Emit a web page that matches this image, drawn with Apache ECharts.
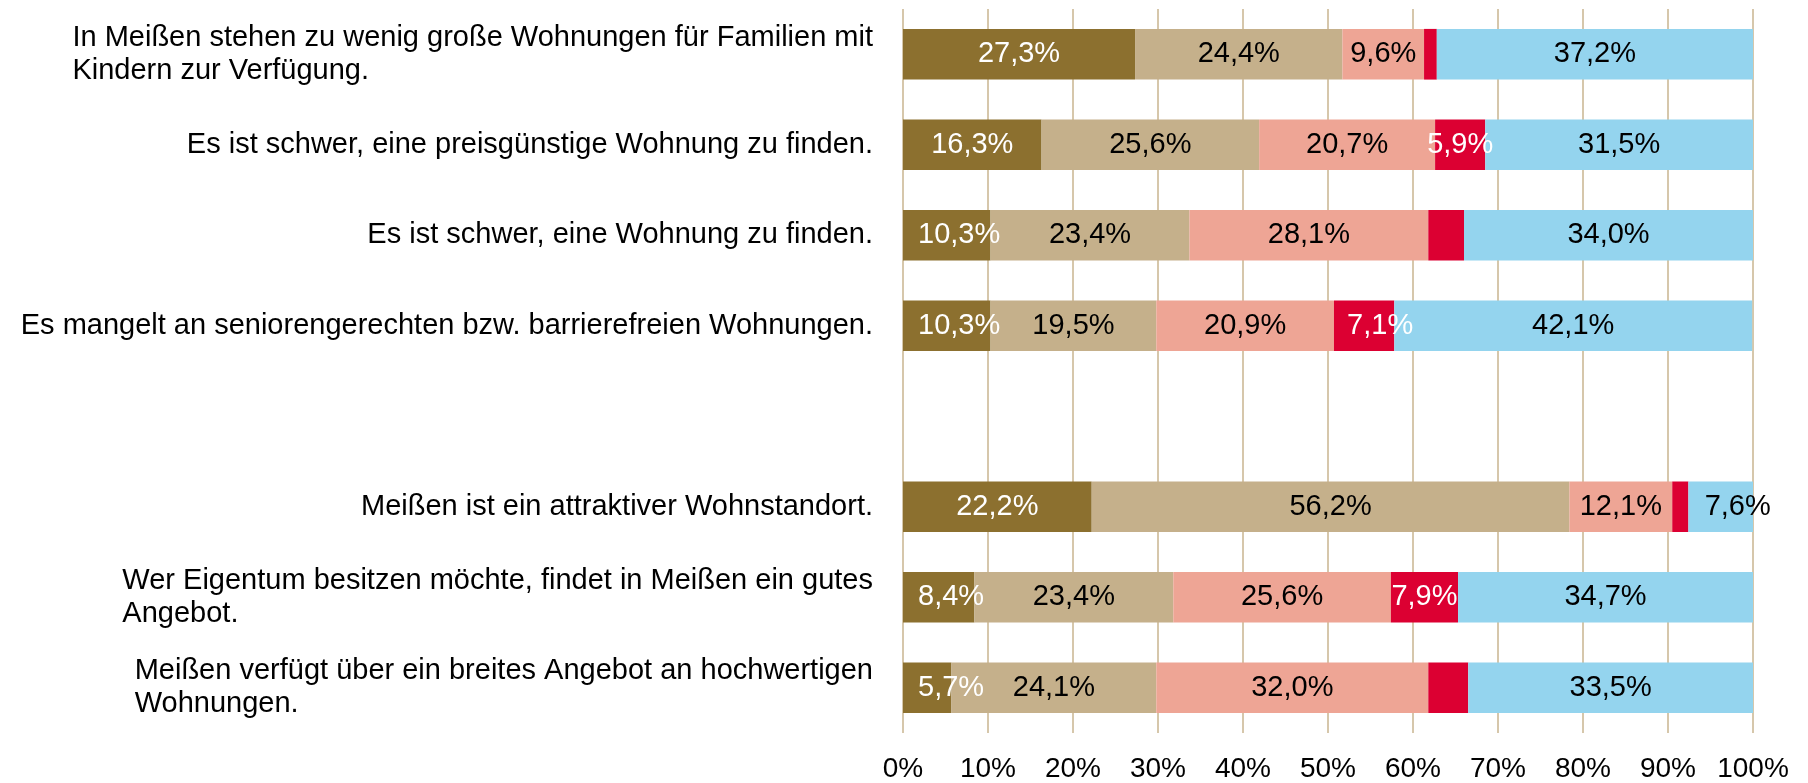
<!DOCTYPE html>
<html>
<head>
<meta charset="utf-8">
<script src="https://cdn.jsdelivr.net/npm/echarts@6/dist/echarts.min.js"></script>
<style>
  html, body { margin: 0; padding: 0; background: #fff; }
  #chart { width: 1808px; height: 783px; }
</style>
</head>
<body>
<div id="chart"></div>
<script>
// Kategorien (von oben nach unten), leere Zeile als Abstand
var categories = [
  "In Meißen stehen zu wenig große Wohnungen für Familien mit\nKindern zur Verfügung.",
  "Es ist schwer, eine preisgünstige Wohnung zu finden.",
  "Es ist schwer, eine Wohnung zu finden.",
  "Es mangelt an seniorengerechten bzw. barrierefreien Wohnungen.",
  "",
  "Meißen ist ein attraktiver Wohnstandort.",
  "Wer Eigentum besitzen möchte, findet in Meißen ein gutes\nAngebot.",
  "Meißen verfügt über ein breites Angebot an hochwertigen\nWohnungen."
];

// Anteile in %
var stronglyAgree    = [27.3, 16.3, 10.3, 10.3, null, 22.2,  8.4,  5.7];
var ratherAgree      = [24.4, 25.6, 23.4, 19.5, null, 56.2, 23.4, 24.1];
var ratherDisagree   = [ 9.6, 20.7, 28.1, 20.9, null, 12.1, 25.6, 32.0];
var stronglyDisagree = [ 1.5,  5.9,  4.2,  7.1, null,  1.9,  7.9,  4.7];
var dontKnow         = [37.2, 31.5, 34.0, 42.1, null,  7.6, 34.7, 33.5];

var xTicks = [0, 10, 20, 30, 40, 50, 60, 70, 80, 90, 100];

var FONT = "Liberation Sans, Arial, sans-serif";

// kleine Verschiebungen einzelner Beschriftungen wie im Original (px)
var labelShift = { "3-3": 16, "4-5": 17 };

function pct(p) {
  if (p.value == null || p.value < 5) return "";
  return p.value.toFixed(1).replace(".", ",") + "%";
}

function makeSeries(idx, name, values, color, textColor) {
  var data = values.map(function (v, i) {
    var item = { value: v };
    if (idx === 0 && v != null && v < 11) {
      // zu schmal: Beschriftung links im Balken
      item.label = { position: "insideLeft", distance: 15 };
    }
    var s = labelShift[idx + "-" + i];
    if (s) item.label = { offset: [s, 0] };
    return item;
  });
  return {
    name: name,
    type: "bar",
    stack: "total",
    data: data,
    barWidth: "56%",
    itemStyle: { color: color },
    label: {
      show: true,
      position: "inside",
      formatter: pct,
      color: textColor,
      fontSize: 29,
      fontFamily: FONT
    },
    emphasis: { disabled: true }
  };
}

var chart = echarts.init(document.getElementById("chart"));

var option = {
  animation: false,
  grid: { left: 903, right: 55, top: 9, bottom: 48 },
  xAxis: {
    type: "value",
    min: xTicks[0],
    max: xTicks[xTicks.length - 1],
    interval: 10,
    axisLine: { show: false },
    axisTick: { show: false },
    splitLine: { show: true, lineStyle: { color: "#c8b58f", width: 1.5 } },
    axisLabel: {
      formatter: "{value}%",
      color: "#000",
      fontSize: 28,
      fontFamily: FONT,
      margin: 22
    }
  },
  yAxis: {
    type: "category",
    inverse: true,
    data: categories,
    axisLine: { show: false },
    axisTick: { show: false },
    axisLabel: {
      margin: 30,
      align: "right",
      formatter: function (v) { return v ? "{l|" + v + "}" : ""; },
      rich: {
        l: {
          align: "left",
          color: "#000",
          fontSize: 29,
          lineHeight: 33,
          fontFamily: FONT
        }
      }
    }
  },
  series: [
    makeSeries(0, "stimme voll zu", stronglyAgree, "#8c702f", "#fff"),
    makeSeries(1, "stimme eher zu", ratherAgree, "#c5b08b", "#000"),
    makeSeries(2, "stimme eher nicht zu", ratherDisagree, "#eea595", "#000"),
    makeSeries(3, "stimme gar nicht zu", stronglyDisagree, "#dc0032", "#fff"),
    makeSeries(4, "weiß nicht", dontKnow, "#94d4ee", "#000")
  ]
};

chart.setOption(option);
</script>
</body>
</html>
